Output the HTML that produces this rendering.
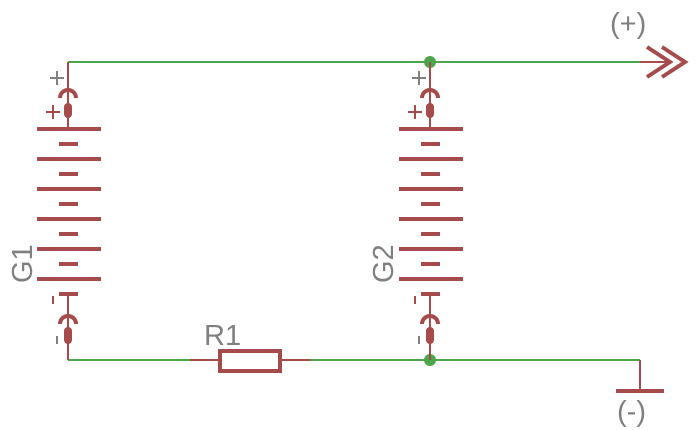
<!DOCTYPE html>
<html><head><meta charset="utf-8"><style>html,body{margin:0;padding:0;background:#fff}svg{display:block}</style></head>
<body>
<svg width="698" height="430" viewBox="0 0 698 430" xmlns="http://www.w3.org/2000/svg">
<defs>
<g id="bat">
  <line x1="0" y1="0" x2="0" y2="66" stroke="#a54b4b" stroke-width="2"/>
  <path d="M-8 36 A8 8 0 0 1 8 36" fill="none" stroke="#a54b4b" stroke-width="4"/>
  <rect x="-4" y="41" width="8" height="15" rx="4" fill="#a54b4b"/>
  <g fill="#a54b4b">
    <rect x="-31" y="65" width="64" height="4"/>
    <rect x="-9" y="80" width="19" height="4"/>
    <rect x="-31" y="95" width="64" height="4"/>
    <rect x="-9" y="110" width="19" height="4"/>
    <rect x="-31" y="125" width="64" height="4"/>
    <rect x="-9" y="140" width="19" height="4"/>
    <rect x="-31" y="155" width="64" height="4"/>
    <rect x="-9" y="170" width="19" height="4"/>
    <rect x="-31" y="185" width="64" height="4"/>
    <rect x="-9" y="200" width="19" height="4"/>
    <rect x="-31" y="215" width="64" height="4"/>
    <rect x="-9" y="230" width="19" height="4"/>
  </g>
  <line x1="0" y1="232" x2="0" y2="298" stroke="#a54b4b" stroke-width="2"/>
  <path d="M-8 262 A8 8 0 0 1 8 262" fill="none" stroke="#a54b4b" stroke-width="4"/>
  <rect x="-4" y="265" width="8" height="17" rx="4" fill="#a54b4b"/>
  <path d="M-18 16 H-4 M-11 9 V23" stroke="#808080" stroke-width="2"/>
  <path d="M-22 50 H-8 M-15 43 V57" stroke="#a54b4b" stroke-width="2"/>
  <line x1="-15" y1="234" x2="-15" y2="242" stroke="#a54b4b" stroke-width="2"/>
  <line x1="-11" y1="274" x2="-11" y2="282" stroke="#808080" stroke-width="2"/>
</g>
</defs>
<g stroke="#4ca64c" stroke-width="2" fill="none">
  <line x1="68" y1="62" x2="640" y2="62"/>
  <line x1="68" y1="360" x2="190" y2="360"/>
  <line x1="310" y1="360" x2="640" y2="360"/>
</g>
<use href="#bat" x="68" y="62"/>
<use href="#bat" x="430" y="62"/>
<g fill="#4ca64c">
  <circle cx="430" cy="62" r="6"/>
  <circle cx="430" cy="360" r="6"/>
</g>
<line x1="430" y1="62" x2="430" y2="68" stroke="#a54b4b" stroke-width="2"/>
<line x1="430" y1="354" x2="430" y2="360" stroke="#a54b4b" stroke-width="2"/>
<line x1="190" y1="360" x2="220" y2="360" stroke="#a54b4b" stroke-width="2"/>
<line x1="280" y1="360" x2="310" y2="360" stroke="#a54b4b" stroke-width="2"/>
<rect x="220" y="351" width="60" height="20" fill="none" stroke="#a54b4b" stroke-width="4"/>
<line x1="640" y1="62" x2="672" y2="62" stroke="#a54b4b" stroke-width="2"/>
<path d="M647 47 L670 62 L647 77 M662 47 L685 62 L662 77" fill="none" stroke="#a54b4b" stroke-width="4"/>
<line x1="640" y1="360" x2="640" y2="390" stroke="#a54b4b" stroke-width="2"/>
<rect x="616" y="389" width="48" height="4" fill="#a54b4b"/>
<g fill="#808080" font-family="Liberation Sans, DejaVu Sans, sans-serif" font-size="29">
  <text x="610" y="33">(+)</text>
  <text x="617" y="421">(-)</text>
  <text x="204" y="345">R1</text>
  <text transform="translate(32,283) rotate(-90)">G1</text>
  <text transform="translate(393,283) rotate(-90)">G2</text>
</g>
</svg>
</body></html>
